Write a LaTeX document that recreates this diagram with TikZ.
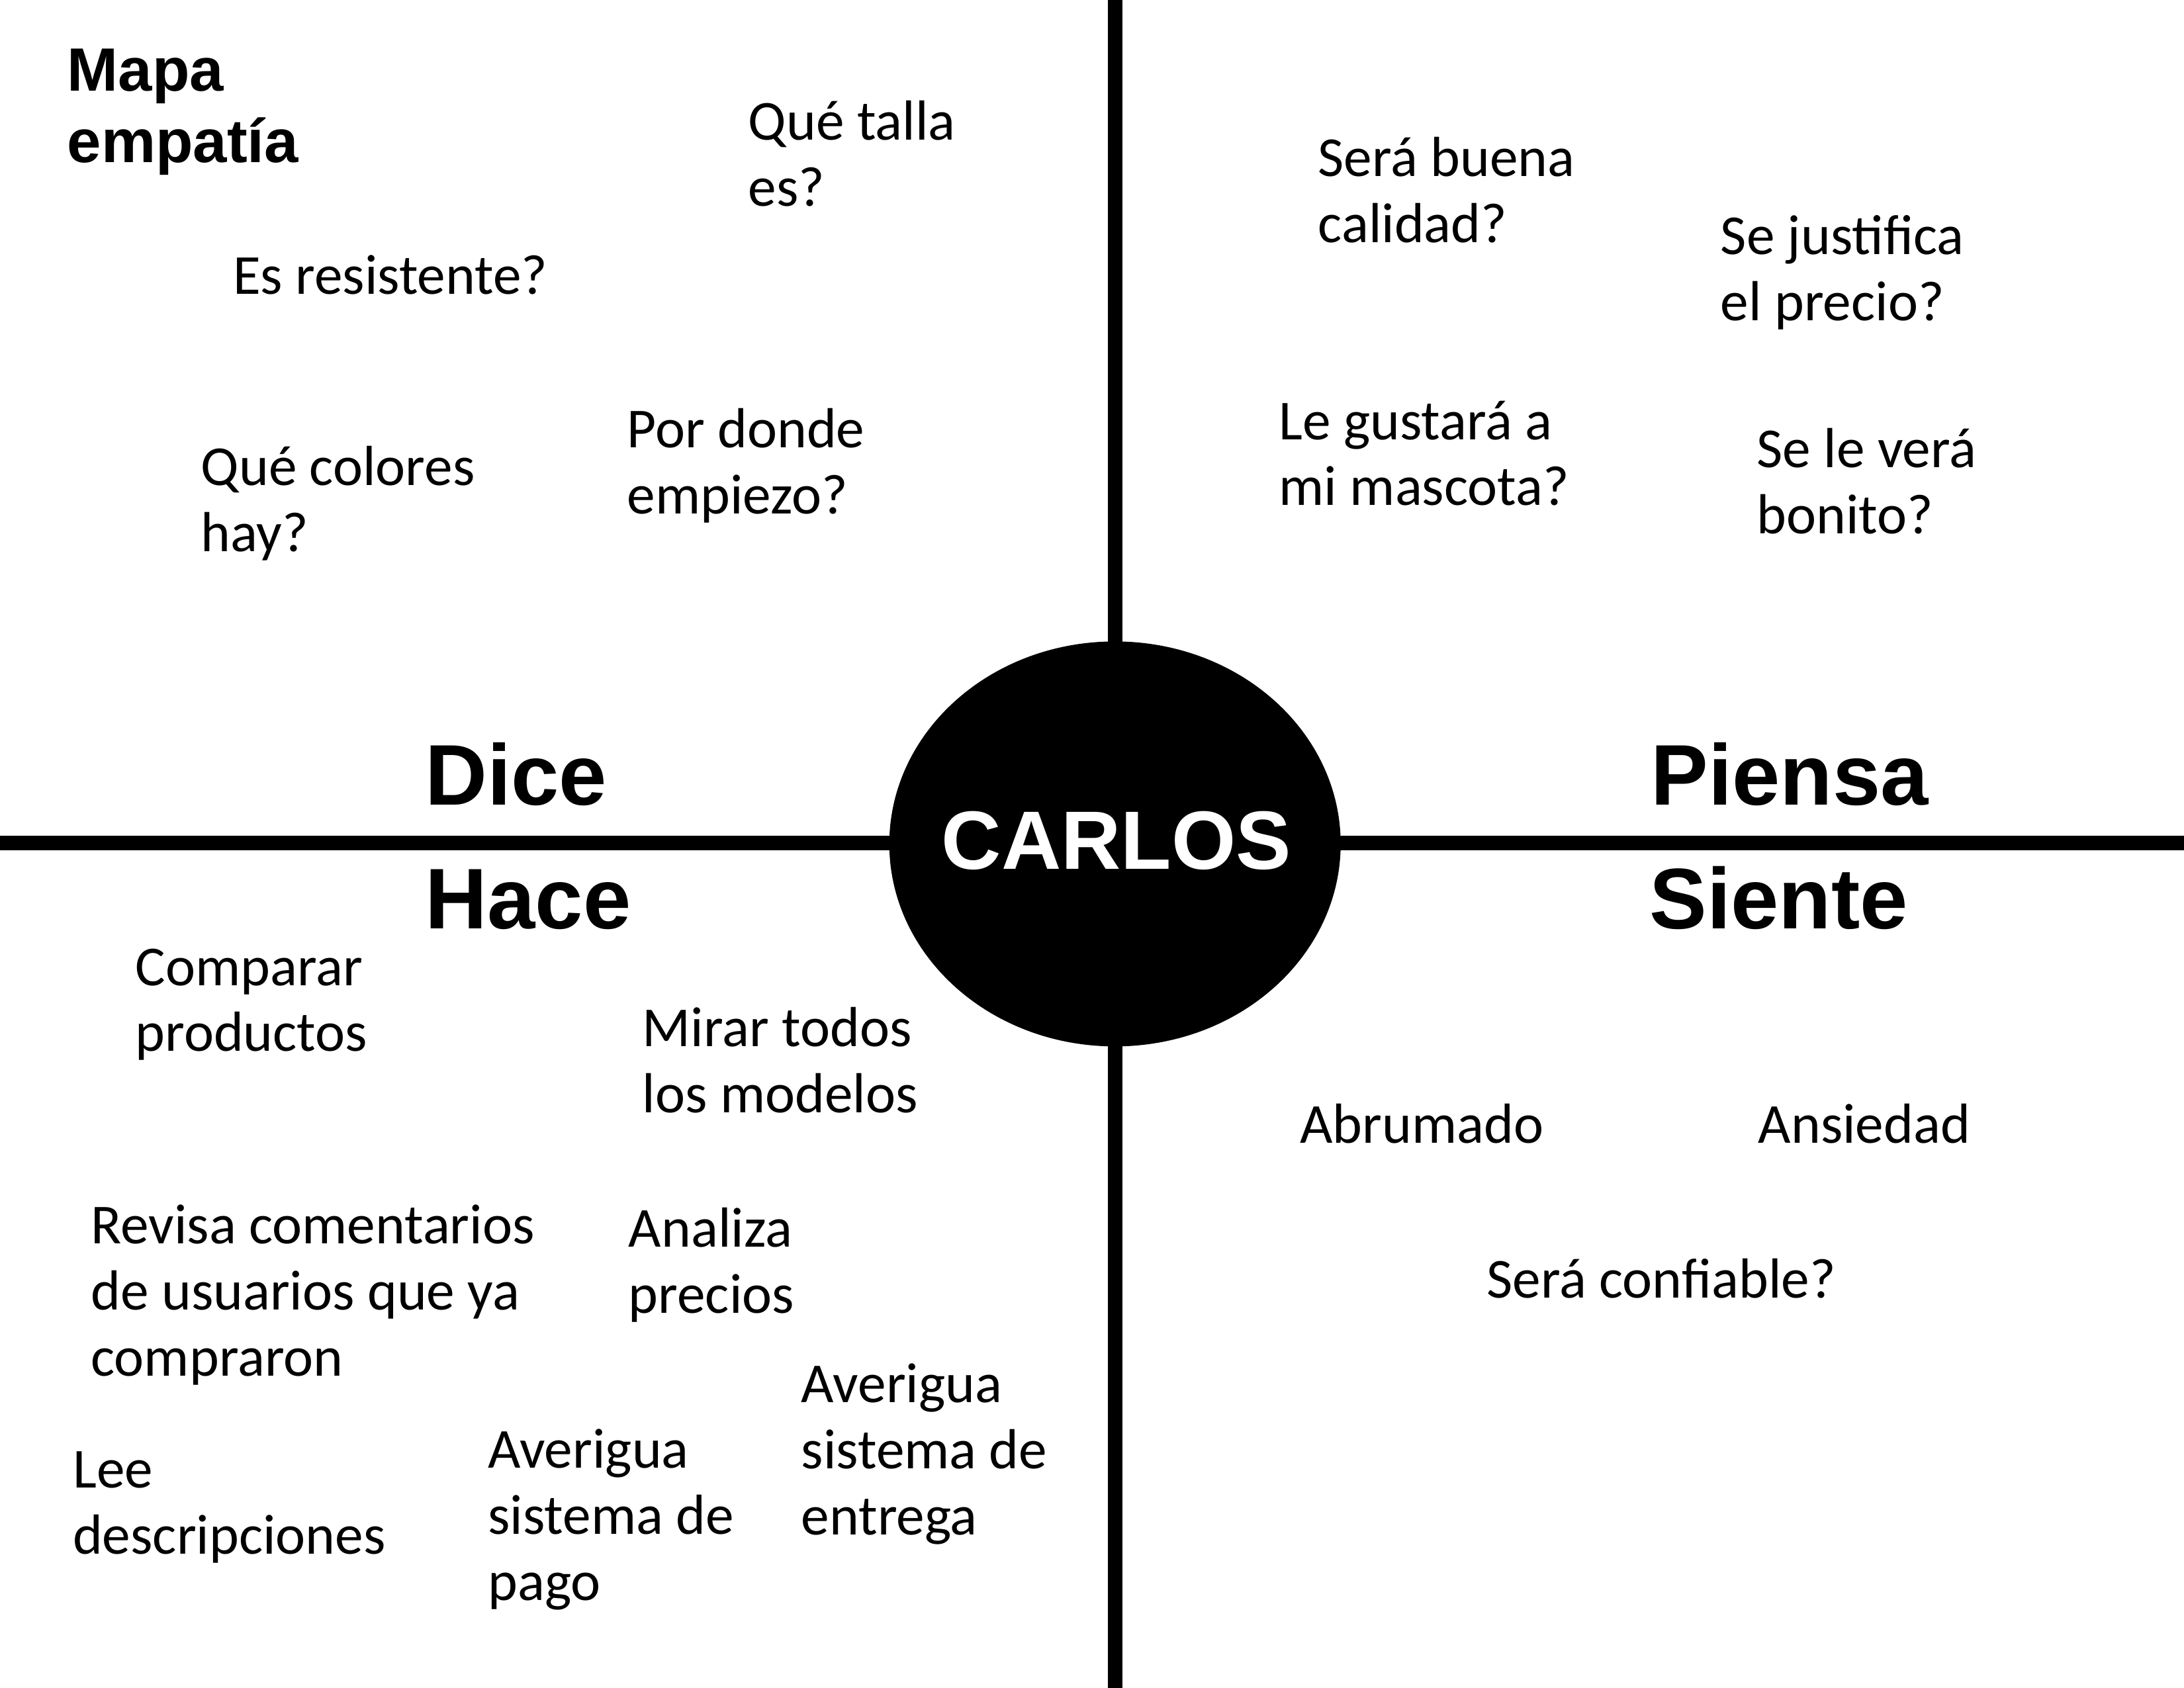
\documentclass[tikz,border=0pt]{standalone}
\usepackage{fontspec}
\setmainfont{Carlito}
\newfontfamily\headfont{Liberation Sans}
\usepackage{tikz}
\usetikzlibrary{shapes.geometric}

\begin{document}
\begin{tikzpicture}[
  x=0.21046mm, y=-0.21046mm,
  lbl/.style={anchor=base west, align=left, inner sep=0pt, font=\fontsize{24.3}{28.4}\selectfont},
  hd/.style={anchor=base west, inner sep=0pt, font=\headfont\bfseries\fontsize{37}{40}\selectfont},
  ax/.style={line width=6.3pt}
]
\fill[white] (0,0) rectangle (1568,1212);
\useasboundingbox (0,0) rectangle (1568,1212);

% axes and centre (multi-line labels sit on their last baseline)
\coordinate (top) at (800.5,0); \coordinate (bot) at (800.5,1212);
\coordinate (lft) at (0,605.3); \coordinate (rgt) at (1568,605.3);
\draw[ax] (top) -- (bot); \draw[ax] (lft) -- (rgt);
\node[ellipse, fill=black, minimum width=68.2mm, minimum height=61.2mm, inner sep=0pt] (carlos) at (800.5,606) {};
\node[hd, anchor=base, text=white, font=\headfont\bfseries\fontsize{35.6}{40}\selectfont] (name) at (801.5,624) {CARLOS};

\node[anchor=base west, align=left, inner sep=0pt, font=\headfont\bfseries\fontsize{26.3}{30.7}\selectfont] (title) at (48,116.5) {Mapa\\empatía};

% quadrant titles
\node[hd] (dice) at (305,578) {Dice};
\node[hd] (piensa) at (1185,578) {Piensa};
\node[hd] (hace) at (305,667) {Hace};
\node[hd] (siente) at (1184,667) {Siente};

% Dice
\node[lbl] (talla) at (537,148) {Qué talla\\es?};
\node[lbl] (resistente) at (167,211) {Es resistente?};
\node[lbl] (colores) at (144,396) {Qué colores\\hay?};
\node[lbl] (donde) at (450,369) {Por donde\\empiezo?};

% Piensa
\node[lbl] (calidad) at (946,174) {Será buena\\calidad?};
\node[lbl] (precio) at (1235,230) {Se justifica\\el precio?};
\node[lbl] (mascota) at (918,363) {Le gustará a\\mi mascota?};
\node[lbl] (bonito) at (1261,383) {Se le verá\\bonito?};

% Hace
\node[lbl] (comparar) at (97,755) {Comparar\\productos};
\node[lbl] (modelos) at (461,799) {Mirar todos\\los modelos};
\node[lbl] (comentarios) at (65,988) {Revisa comentarios\\de usuarios que ya\\compraron};
\node[lbl] (analiza) at (451,943) {Analiza\\precios};
\node[lbl] (entrega) at (575,1102) {Averigua\\sistema de\\entrega};
\node[lbl] (pago) at (350,1149) {Averigua\\sistema de\\pago};
\node[lbl] (lee) at (52,1116) {Lee\\descripciones};

% Siente
\node[lbl] (abrumado) at (933,821) {Abrumado};
\node[lbl] (ansiedad) at (1262,821) {Ansiedad};
\node[lbl] (confiable) at (1067,932) {Será confiable?};
\end{tikzpicture}
\end{document}
